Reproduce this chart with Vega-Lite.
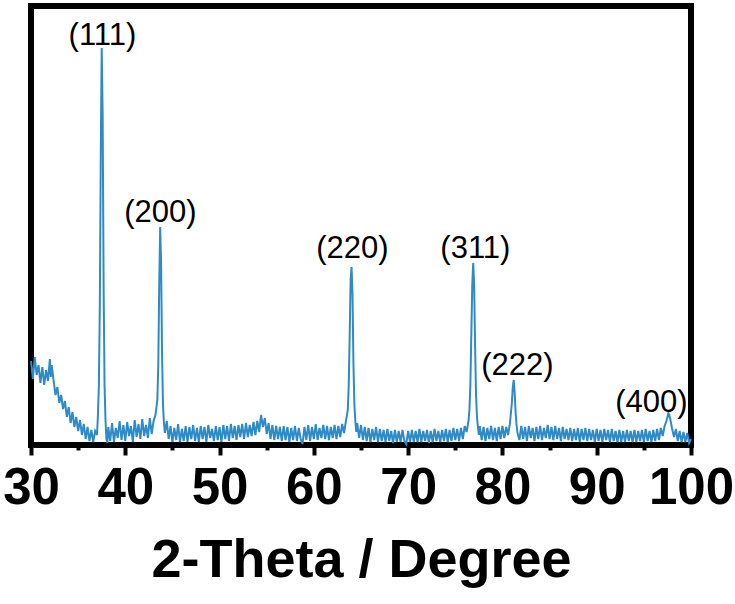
{
  "$schema": "https://vega.github.io/schema/vega-lite/v6.json",
  "autosize": "none",
  "width": 660,
  "height": 439,
  "padding": {"left": 31, "top": 6, "right": 44, "bottom": 159},
  "background": "white",
  "config": {
    "view": {"stroke": "black", "strokeWidth": 6},
    "font": "Liberation Sans"
  },
  "datasets": {
    "xrd": [
      {"t":30.0,"i":84},{"t":30.2,"i":66},{"t":30.4,"i":88},{"t":30.6,"i":70},{"t":30.8,"i":80},{"t":31.0,"i":62},{"t":31.2,"i":78},{"t":31.4,"i":60},{"t":31.6,"i":75},{"t":31.8,"i":64},
      {"t":32.0,"i":86},{"t":32.1,"i":68},{"t":32.2,"i":80},{"t":32.4,"i":64},{"t":32.6,"i":50},{"t":32.8,"i":58},{"t":33.0,"i":42},{"t":33.2,"i":50},{"t":33.4,"i":36},{"t":33.6,"i":44},
      {"t":33.8,"i":28},{"t":34.0,"i":38},{"t":34.2,"i":22},{"t":34.4,"i":33},{"t":34.6,"i":18},{"t":34.8,"i":28},{"t":35.0,"i":14},{"t":35.2,"i":25},{"t":35.4,"i":10},{"t":35.6,"i":21},
      {"t":35.8,"i":6},{"t":36.0,"i":18},{"t":36.2,"i":4},{"t":36.4,"i":15},{"t":36.6,"i":3},{"t":36.8,"i":14},{"t":37.0,"i":10},{"t":37.1,"i":30},{"t":37.2,"i":60},{"t":37.3,"i":140},
      {"t":37.4,"i":290},{"t":37.5,"i":397},{"t":37.6,"i":330},{"t":37.7,"i":160},{"t":37.8,"i":60},{"t":37.9,"i":25},{"t":38.0,"i":6},{"t":38.1,"i":2},{"t":38.2,"i":18},{"t":38.4,"i":4},
      {"t":38.6,"i":22},{"t":38.8,"i":3},{"t":39.0,"i":17},{"t":39.2,"i":7},{"t":39.4,"i":24},{"t":39.6,"i":5},{"t":39.8,"i":20},{"t":40.0,"i":4},{"t":40.2,"i":23},{"t":40.4,"i":9},
      {"t":40.6,"i":19},{"t":40.8,"i":3},{"t":41.0,"i":25},{"t":41.2,"i":8},{"t":41.4,"i":21},{"t":41.6,"i":6},{"t":41.8,"i":26},{"t":42.0,"i":9},{"t":42.2,"i":20},{"t":42.4,"i":7},
      {"t":42.6,"i":27},{"t":42.8,"i":11},{"t":43.0,"i":24},{"t":43.2,"i":30},{"t":43.4,"i":45},{"t":43.5,"i":80},{"t":43.6,"i":160},{"t":43.7,"i":218},{"t":43.8,"i":180},{"t":43.9,"i":90},
      {"t":44.0,"i":40},{"t":44.1,"i":22},{"t":44.2,"i":12},{"t":44.4,"i":24},{"t":44.6,"i":6},{"t":44.8,"i":19},{"t":45.0,"i":3},{"t":45.2,"i":17},{"t":45.4,"i":5},{"t":45.6,"i":21},
      {"t":45.8,"i":3},{"t":46.0,"i":16},{"t":46.2,"i":4},{"t":46.4,"i":19},{"t":46.6,"i":3},{"t":46.8,"i":18},{"t":47.0,"i":6},{"t":47.2,"i":20},{"t":47.4,"i":4},{"t":47.6,"i":17},
      {"t":47.8,"i":3},{"t":48.0,"i":19},{"t":48.2,"i":6},{"t":48.4,"i":18},{"t":48.6,"i":3},{"t":48.8,"i":20},{"t":49.0,"i":7},{"t":49.2,"i":16},{"t":49.4,"i":4},{"t":49.6,"i":19},
      {"t":49.8,"i":5},{"t":50.0,"i":18},{"t":50.2,"i":3},{"t":50.4,"i":20},{"t":50.6,"i":6},{"t":50.8,"i":19},{"t":51.0,"i":4},{"t":51.2,"i":21},{"t":51.4,"i":7},{"t":51.6,"i":19},
      {"t":51.8,"i":5},{"t":52.0,"i":20},{"t":52.2,"i":8},{"t":52.4,"i":21},{"t":52.6,"i":6},{"t":52.8,"i":22},{"t":53.0,"i":8},{"t":53.2,"i":20},{"t":53.4,"i":9},{"t":53.6,"i":23},
      {"t":53.8,"i":10},{"t":54.0,"i":24},{"t":54.2,"i":13},{"t":54.4,"i":30},{"t":54.6,"i":18},{"t":54.8,"i":27},{"t":55.0,"i":11},{"t":55.2,"i":22},{"t":55.4,"i":6},{"t":55.6,"i":20},
      {"t":55.8,"i":5},{"t":56.0,"i":19},{"t":56.2,"i":6},{"t":56.4,"i":18},{"t":56.6,"i":4},{"t":56.8,"i":19},{"t":57.0,"i":5},{"t":57.2,"i":18},{"t":57.4,"i":3},{"t":57.6,"i":17},
      {"t":57.8,"i":5},{"t":58.0,"i":19},{"t":58.2,"i":4},{"t":58.4,"i":17},{"t":58.6,"i":6},{"t":58.8,"i":1},{"t":59.0,"i":18},{"t":59.2,"i":5},{"t":59.4,"i":20},{"t":59.6,"i":4},
      {"t":59.8,"i":18},{"t":60.0,"i":6},{"t":60.2,"i":21},{"t":60.4,"i":5},{"t":60.6,"i":17},{"t":60.8,"i":7},{"t":61.0,"i":20},{"t":61.2,"i":6},{"t":61.4,"i":19},{"t":61.6,"i":5},
      {"t":61.8,"i":18},{"t":62.0,"i":7},{"t":62.2,"i":20},{"t":62.4,"i":6},{"t":62.6,"i":19},{"t":62.8,"i":8},{"t":63.0,"i":21},{"t":63.2,"i":12},{"t":63.4,"i":24},{"t":63.6,"i":35},
      {"t":63.7,"i":60},{"t":63.8,"i":110},{"t":63.9,"i":165},{"t":64.0,"i":178},{"t":64.1,"i":150},{"t":64.2,"i":80},{"t":64.3,"i":40},{"t":64.4,"i":24},{"t":64.5,"i":13},{"t":64.6,"i":22},
      {"t":64.8,"i":7},{"t":65.0,"i":20},{"t":65.2,"i":5},{"t":65.4,"i":18},{"t":65.6,"i":4},{"t":65.8,"i":17},{"t":66.0,"i":3},{"t":66.2,"i":16},{"t":66.4,"i":5},{"t":66.6,"i":18},
      {"t":66.8,"i":3},{"t":67.0,"i":16},{"t":67.2,"i":4},{"t":67.4,"i":15},{"t":67.6,"i":3},{"t":67.8,"i":16},{"t":68.0,"i":4},{"t":68.2,"i":14},{"t":68.4,"i":2},{"t":68.6,"i":15},
      {"t":68.8,"i":3},{"t":69.0,"i":14},{"t":69.2,"i":3},{"t":69.4,"i":15},{"t":69.6,"i":4},{"t":69.8,"i":1},{"t":70.0,"i":14},{"t":70.2,"i":3},{"t":70.4,"i":15},{"t":70.6,"i":3},
      {"t":70.8,"i":14},{"t":71.0,"i":3},{"t":71.2,"i":16},{"t":71.4,"i":3},{"t":71.6,"i":14},{"t":71.8,"i":4},{"t":72.0,"i":15},{"t":72.2,"i":2},{"t":72.4,"i":14},{"t":72.6,"i":3},
      {"t":72.8,"i":16},{"t":73.0,"i":4},{"t":73.2,"i":14},{"t":73.4,"i":3},{"t":73.6,"i":15},{"t":73.8,"i":4},{"t":74.0,"i":16},{"t":74.2,"i":3},{"t":74.4,"i":15},{"t":74.6,"i":4},
      {"t":74.8,"i":17},{"t":75.0,"i":5},{"t":75.2,"i":16},{"t":75.4,"i":4},{"t":75.6,"i":17},{"t":75.8,"i":6},{"t":76.0,"i":19},{"t":76.2,"i":13},{"t":76.4,"i":24},{"t":76.5,"i":35},
      {"t":76.6,"i":60},{"t":76.7,"i":110},{"t":76.8,"i":160},{"t":76.9,"i":182},{"t":77.0,"i":160},{"t":77.1,"i":100},{"t":77.2,"i":50},{"t":77.3,"i":28},{"t":77.4,"i":18},{"t":77.5,"i":10},
      {"t":77.6,"i":19},{"t":77.8,"i":5},{"t":78.0,"i":18},{"t":78.2,"i":4},{"t":78.4,"i":17},{"t":78.6,"i":6},{"t":78.8,"i":19},{"t":79.0,"i":5},{"t":79.2,"i":17},{"t":79.4,"i":4},
      {"t":79.6,"i":18},{"t":79.8,"i":6},{"t":80.0,"i":19},{"t":80.2,"i":7},{"t":80.4,"i":18},{"t":80.6,"i":10},{"t":80.8,"i":22},{"t":81.0,"i":42},{"t":81.1,"i":58},{"t":81.2,"i":65},
      {"t":81.3,"i":52},{"t":81.4,"i":32},{"t":81.5,"i":20},{"t":81.6,"i":12},{"t":81.8,"i":5},{"t":82.0,"i":19},{"t":82.2,"i":6},{"t":82.4,"i":18},{"t":82.6,"i":4},{"t":82.8,"i":19},
      {"t":83.0,"i":7},{"t":83.2,"i":17},{"t":83.4,"i":4},{"t":83.6,"i":18},{"t":83.8,"i":6},{"t":84.0,"i":19},{"t":84.2,"i":5},{"t":84.4,"i":17},{"t":84.6,"i":7},{"t":84.8,"i":20},
      {"t":85.0,"i":6},{"t":85.2,"i":18},{"t":85.4,"i":5},{"t":85.6,"i":19},{"t":85.8,"i":6},{"t":86.0,"i":17},{"t":86.2,"i":4},{"t":86.4,"i":18},{"t":86.6,"i":6},{"t":86.8,"i":16},
      {"t":87.0,"i":5},{"t":87.2,"i":17},{"t":87.4,"i":4},{"t":87.6,"i":16},{"t":87.8,"i":5},{"t":88.0,"i":17},{"t":88.2,"i":3},{"t":88.4,"i":16},{"t":88.6,"i":5},{"t":88.8,"i":17},
      {"t":89.0,"i":4},{"t":89.2,"i":16},{"t":89.4,"i":5},{"t":89.6,"i":15},{"t":89.8,"i":3},{"t":90.0,"i":16},{"t":90.2,"i":4},{"t":90.4,"i":15},{"t":90.6,"i":3},{"t":90.8,"i":16},
      {"t":91.0,"i":5},{"t":91.2,"i":15},{"t":91.4,"i":3},{"t":91.6,"i":16},{"t":91.8,"i":4},{"t":92.0,"i":14},{"t":92.2,"i":3},{"t":92.4,"i":15},{"t":92.6,"i":3},{"t":92.8,"i":14},
      {"t":93.0,"i":3},{"t":93.2,"i":15},{"t":93.4,"i":4},{"t":93.6,"i":14},{"t":93.8,"i":3},{"t":94.0,"i":15},{"t":94.2,"i":3},{"t":94.4,"i":14},{"t":94.6,"i":4},{"t":94.8,"i":15},
      {"t":95.0,"i":3},{"t":95.2,"i":16},{"t":95.4,"i":4},{"t":95.6,"i":14},{"t":95.8,"i":3},{"t":96.0,"i":15},{"t":96.2,"i":4},{"t":96.4,"i":16},{"t":96.6,"i":5},{"t":96.8,"i":17},
      {"t":97.0,"i":9},{"t":97.2,"i":19},{"t":97.4,"i":24},{"t":97.6,"i":32},{"t":97.7,"i":30},{"t":97.8,"i":26},{"t":98.0,"i":16},{"t":98.2,"i":8},{"t":98.4,"i":16},{"t":98.6,"i":4},
      {"t":98.8,"i":14},{"t":99.0,"i":3},{"t":99.2,"i":13},{"t":99.4,"i":3},{"t":99.6,"i":12},{"t":99.8,"i":2},{"t":100.0,"i":6}
    ],
    "labels": [
      {"t":37.58,"i":400,"label":"(111)"},
      {"t":43.73,"i":223,"label":"(200)"},
      {"t":64.08,"i":187,"label":"(220)"},
      {"t":77.13,"i":187,"label":"(311)"},
      {"t":81.59,"i":70,"label":"(222)"},
      {"t":95.8,"i":33,"label":"(400)"}
    ]
  },
  "layer": [
    {
      "data": {"name": "xrd"},
      "mark": {"type": "line", "color": "#2e8bc7", "strokeWidth": 2, "interpolate": "linear"},
      "encoding": {
        "x": {
          "field": "t", "type": "quantitative",
          "scale": {"domain": [30, 100], "nice": false, "zero": false},
          "axis": {
            "values": [30,35,40,45,50,55,60,65,70,75,80,85,90,95,100],
            "labelExpr": "datum.value % 10 === 0 ? datum.label : ''",
            "tickSize": {"condition": {"test": "datum.value % 10 === 0", "value": 10}, "value": 5},
            "tickWidth": 4,
            "tickColor": "black",
            "domain": false,
            "grid": false,
            "labelFont": "Liberation Sans",
            "labelFontWeight": "bold",
            "labelFontSize": 51,
            "labelColor": "black",
            "labelPadding": 8,
            "labelOverlap": false,
            "labelFlush": false,
            "title": "2-Theta / Degree",
            "titleFont": "Liberation Sans",
            "titleFontWeight": "bold",
            "titleFontSize": 54,
            "titleColor": "black",
            "titlePadding": 20
          }
        },
        "y": {
          "field": "i", "type": "quantitative",
          "scale": {"domain": [0, 439], "nice": false, "zero": false},
          "axis": null
        }
      }
    },
    {
      "data": {"name": "labels"},
      "mark": {"type": "text", "font": "Liberation Sans", "fontSize": 31, "color": "black", "align": "center", "baseline": "alphabetic"},
      "encoding": {
        "x": {"field": "t", "type": "quantitative"},
        "y": {"field": "i", "type": "quantitative"},
        "text": {"field": "label"}
      }
    }
  ]
}
